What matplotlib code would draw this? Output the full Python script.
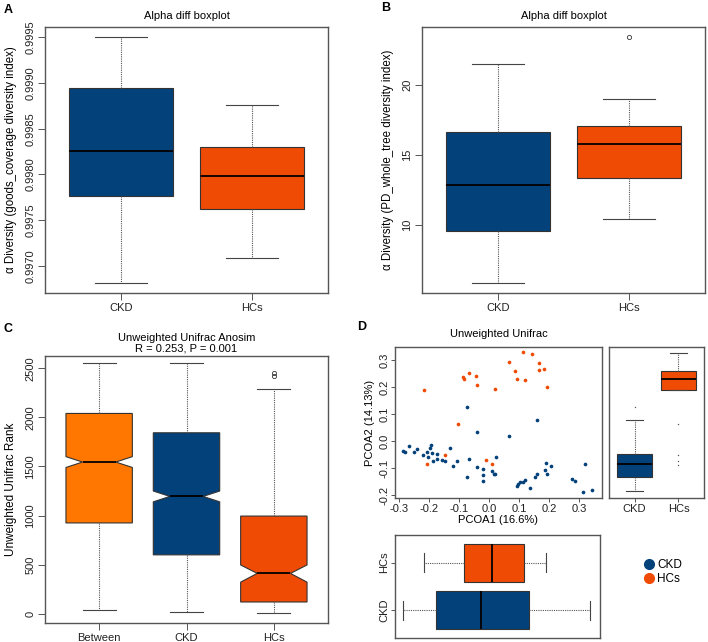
import matplotlib
matplotlib.use("Agg")
import matplotlib.pyplot as plt
from matplotlib.lines import Line2D

plt.rcParams['font.family'] = ['Liberation Sans', 'DejaVu Sans']
plt.rcParams['font.size'] = 8

BLUE = '#03417A'
RED = '#F04B05'
ORANGE = '#FF7700'
EDGE = '#333333'

# ---- panel A: goods_coverage ----
groups_ab = ['CKD', 'HCs']
a_whislo = [0.99681, 0.99708]
a_q1 = [0.99776, 0.99762]
a_med = [0.99826, 0.99798]
a_q3 = [0.99895, 0.99830]
a_whishi = [0.99950, 0.99876]

# ---- panel B: PD_whole_tree ----
b_whislo = [5.83, 10.45]
b_q1 = [9.59, 13.38]
b_med = [12.88, 15.76]
b_q3 = [16.67, 17.10]
b_whishi = [21.5, 19.02]
b_fliers = [[], [23.45]]

# ---- panel C: anosim ranks ----
groups_c = ['Between', 'CKD', 'HCs']
c_whislo = [34, 17, 7]
c_q1 = [925, 600, 120]
c_med = [1545, 1195, 411]
c_q3 = [2040, 1843, 995]
c_whishi = [2550, 2550, 2285]
c_cilo = [1490, 1140, 322]
c_cihi = [1600, 1250, 497]
c_fliers = [[], [], [2425, 2455]]

# ---- panel D: PCoA scatter ----
ckd_x = [-0.288, -0.281, -0.267, -0.252, -0.241, -0.222, -0.206, -0.203, -0.197, -0.194,
         -0.192, -0.186, -0.174, -0.174, -0.157, -0.148, -0.130, -0.121, -0.106, -0.074,
         -0.074, -0.067, -0.039, -0.040, -0.019, -0.019, -0.021, 0.010, 0.017, 0.021,
         0.024, 0.068, 0.092, 0.097, 0.103, 0.112, 0.121, 0.137, 0.152, 0.159,
         0.161, 0.186, 0.189, 0.192, 0.208, 0.278, 0.288, 0.319, 0.314, 0.343]
ckd_y = [-0.038, -0.041, -0.017, -0.042, -0.031, -0.051, -0.041, -0.059, -0.026, -0.016,
         -0.043, -0.072, -0.048, -0.065, -0.069, -0.073, -0.025, -0.091, -0.075, 0.127,
         -0.132, -0.068, 0.032, -0.095, -0.104, -0.127, -0.149, -0.111, -0.123, -0.122,
         -0.059, 0.019, -0.165, -0.160, -0.152, -0.151, -0.146, -0.174, -0.132, -0.123,
         0.080, -0.107, -0.083, -0.122, -0.091, -0.141, -0.148, -0.086, -0.188, -0.180]
hcs_x = [-0.217, -0.088, -0.083, -0.068, -0.043, -0.041, 0.019, -0.103, -0.146, -0.208,
         -0.010, 0.010, 0.068, 0.086, 0.094, 0.112, 0.119, 0.143, 0.167, 0.166,
         0.183, 0.194]
hcs_y = [0.189, 0.238, 0.232, 0.253, 0.243, 0.207, 0.195, 0.065, -0.052, -0.085,
         -0.070, -0.085, 0.295, 0.260, 0.232, 0.331, 0.228, 0.323, 0.288, 0.263,
         0.269, 0.199]

# marginal boxes (PCOA2, right)
d2_whislo = [-0.186, 0.188]
d2_q1 = [-0.132, 0.188]
d2_med = [-0.085, 0.230]
d2_q3 = [-0.046, 0.259]
d2_whishi = [0.080, 0.328]
d2_fliers = [[0.127], [0.065, -0.052, -0.075, -0.088]]

# marginal boxes (PCOA1, bottom)
d1_whislo = [-0.287, -0.216]
d1_q1 = [-0.177, -0.083]
d1_med = [-0.024, 0.013]
d1_q3 = [0.138, 0.120]
d1_whishi = [0.343, 0.194]

W, H = 708, 642
fig = plt.figure(figsize=(W / 100, H / 100), dpi=100)


def rect(l, t, r, b):
    return [l / W, 1 - b / H, (r - l) / W, (b - t) / H]


def make_stats(whislo, q1, med, q3, whishi, fliers=None, cilo=None, cihi=None):
    stats = []
    for i in range(len(med)):
        s = dict(whislo=whislo[i], q1=q1[i], med=med[i], q3=q3[i], whishi=whishi[i],
                 fliers=fliers[i] if fliers else [])
        if cilo:
            s['cilo'] = cilo[i]
            s['cihi'] = cihi[i]
        stats.append(s)
    return stats


def r_style(ax):
    for sp in ax.spines.values():
        sp.set_color('#555555')
        sp.set_linewidth(1.0)
    ax.tick_params(direction='out', length=5, width=0.7, color='#555555',
                   labelcolor='#222222', labelsize=8, pad=2)


def draw_box(ax, stats, colors, width=0.8, notch=False, orientation='vertical',
             flier_style=None):
    if flier_style is None:
        flier_style = dict(marker='o', markersize=3, markerfacecolor='none',
                           markeredgecolor='#333333', markeredgewidth=0.6)
    art = ax.bxp(stats, widths=width, patch_artist=True,
                 shownotches=notch, orientation=orientation,
                 boxprops=dict(edgecolor=EDGE, linewidth=0.8),
                 medianprops=dict(color='black', linewidth=1.3),
                 whiskerprops=dict(color='#555555', linewidth=0.8, linestyle=(0, (1, 1))),
                 capprops=dict(color='#444444', linewidth=0.8),
                 capwidths=width * 0.5,
                 flierprops=flier_style)
    for patch, c in zip(art['boxes'], colors):
        patch.set_facecolor(c)


def rot_y(ax):
    plt.setp(ax.get_yticklabels(), rotation=90, va='center')


# panel A
axA = fig.add_axes(rect(45, 27, 328, 293))
draw_box(axA, make_stats(a_whislo, a_q1, a_med, a_q3, a_whishi), [BLUE, RED])
axA.set_xlim(0.42, 2.58)
axA.set_ylim(0.996701, 0.999614)
axA.set_yticks([0.9970, 0.9975, 0.9980, 0.9985, 0.9990, 0.9995])
axA.set_yticklabels(['0.9970', '0.9975', '0.9980', '0.9985', '0.9990', '0.9995'])
axA.set_xticks([1, 2])
axA.set_xticklabels(groups_ab)
r_style(axA)
rot_y(axA)
axA.set_title('Alpha diff boxplot', fontsize=8, pad=6)
axA.set_ylabel('α Diversity (goods_coverage diversity index)', fontsize=8.3, labelpad=6)
fig.text(4 / W, 1 - 10 / H, 'A', fontsize=9, fontweight='bold', va='center')

# panel B
axB = fig.add_axes(rect(422, 27, 705, 293))
draw_box(axB, make_stats(b_whislo, b_q1, b_med, b_q3, b_whishi, b_fliers), [BLUE, RED])
axB.set_xlim(0.42, 2.58)
axB.set_ylim(5.14, 24.14)
axB.set_yticks([10, 15, 20])
axB.set_xticks([1, 2])
axB.set_xticklabels(groups_ab)
r_style(axB)
rot_y(axB)
axB.set_title('Alpha diff boxplot', fontsize=8, pad=6)
axB.set_ylabel('α Diversity (PD_whole_tree diversity index)', fontsize=8.3, labelpad=6)
fig.text(381 / W, 1 - 8 / H, 'B', fontsize=9, fontweight='bold', va='center')

# panel C
axC = fig.add_axes(rect(45, 356, 328, 623))
draw_box(axC, make_stats(c_whislo, c_q1, c_med, c_q3, c_whishi, c_fliers, c_cilo, c_cihi),
         [ORANGE, BLUE, RED], width=0.76, notch=True)
axC.set_xlim(0.38, 3.62)
axC.set_ylim(-94, 2625)
axC.set_yticks([0, 500, 1000, 1500, 2000, 2500])
axC.set_xticks([1, 2, 3])
axC.set_xticklabels(groups_c)
r_style(axC)
rot_y(axC)
axC.set_title('Unweighted Unifrac Anosim\nR = 0.253, P = 0.001', fontsize=8, pad=3,
              linespacing=1.1)
axC.set_ylabel('Unweighted Unifrac Rank', fontsize=8.5, labelpad=6)
fig.text(4 / W, 1 - 329 / H, 'C', fontsize=9, fontweight='bold', va='center')

# panel D scatter
axD = fig.add_axes(rect(395, 347, 602, 498))
axD.scatter(ckd_x, ckd_y, s=7, color=BLUE, linewidths=0)
axD.scatter(hcs_x, hcs_y, s=7, color=RED, linewidths=0)
axD.set_xlim(-0.314, 0.377)
axD.set_ylim(-0.211, 0.349)
axD.set_xticks([-0.3, -0.2, -0.1, 0.0, 0.1, 0.2, 0.3])
axD.set_xticklabels(['-0.3', '-0.2', '-0.1', '0.0', '0.1', '0.2', '0.3'])
axD.set_yticks([-0.2, -0.1, 0.0, 0.1, 0.2, 0.3])
axD.set_yticklabels(['-0.2', '-0.1', '0.0', '0.1', '0.2', '0.3'])
r_style(axD)
rot_y(axD)
axD.tick_params(length=3, pad=1)
axD.set_title('Unweighted Unifrac', fontsize=8, pad=7)
axD.set_xlabel('PCOA1 (16.6%)', fontsize=8, labelpad=1)
axD.set_ylabel('PCOA2 (14.13%)', fontsize=8, labelpad=3)
fig.text(357 / W, 1 - 327 / H, 'D', fontsize=9, fontweight='bold', va='center')

# panel D right marginal
axR = fig.add_axes(rect(609, 347, 704, 498))
draw_box(axR, make_stats(d2_whislo, d2_q1, d2_med, d2_q3, d2_whishi, d2_fliers), [BLUE, RED],
         width=0.8, flier_style=dict(marker='.', markersize=2, markerfacecolor='#555555',
                                     markeredgecolor='none'))
axR.set_xlim(0.42, 2.58)
axR.set_ylim(-0.211, 0.349)
axR.set_yticks([])
axR.set_xticks([1, 2])
axR.set_xticklabels(groups_ab)
r_style(axR)
axR.tick_params(length=3, pad=1)

# panel D bottom marginal
axBt = fig.add_axes(rect(395, 535, 600, 638))
draw_box(axBt, make_stats(d1_whislo, d1_q1, d1_med, d1_q3, d1_whishi), [BLUE, RED],
         width=0.8, orientation='horizontal')
axBt.set_xlim(-0.314, 0.377)
axBt.set_ylim(0.42, 2.58)
axBt.set_xticks([])
axBt.set_yticks([1, 2])
axBt.set_yticklabels(groups_ab)
r_style(axBt)
rot_y(axBt)
axBt.tick_params(length=3, pad=1)

# legend
handles = [Line2D([], [], marker='o', linestyle='none', markersize=7, color=BLUE),
           Line2D([], [], marker='o', linestyle='none', markersize=7, color=RED)]
fig.legend(handles, groups_ab, loc='upper left', bbox_to_anchor=(636 / W, 1 - 553 / H),
           frameon=False, fontsize=8.5, handletextpad=0.1, labelspacing=0.15,
           borderpad=0, handlelength=1.2)

fig.savefig('out.png', dpi=100)
